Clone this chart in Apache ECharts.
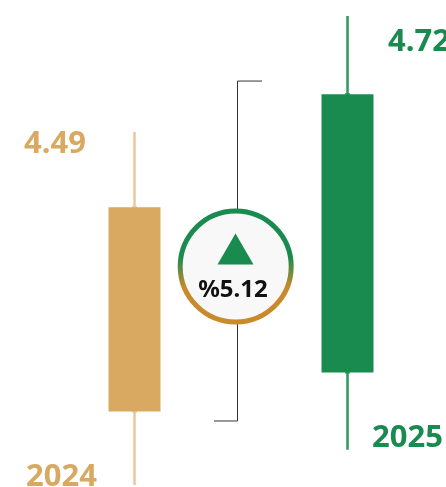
<!DOCTYPE html>
<html>
<head>
<meta charset="utf-8">
<script src="https://cdn.jsdelivr.net/npm/echarts@6/dist/echarts.min.js"></script>
<style>
html, body { margin: 0; padding: 0; background: #fff; overflow: hidden; }
#main { width: 446px; height: 487px; }
</style>
</head>
<body>
<div id="main"></div>
<script>
// values
var years = ['2024', '2025']
var opens = [3.936, 4.013]
var closes = [4.341, 4.565]
var lows = [3.79, 3.86]
var highs = [4.49, 4.72]
var priceLabels = ['4.49', '4.72']
var bracketTop = 4.591
var bracketBottom = 3.917
var changeLabel = '%5.12'

var bodyColors = ['#D9A962', '#1A8B4F']
var wickColors = ['#EAC89C', '#2F9663']
var FONT = '"Noto Sans", sans-serif'

var myChart = echarts.init(document.getElementById('main'), null, { renderer: 'canvas' })

function yearText(text, x, y, color, size) {
  return {
    type: 'text',
    x: x,
    y: y,
    z: 20,
    style: {
      text: text,
      fill: color,
      font: 'bold ' + size + 'px ' + FONT,
      textVerticalAlign: 'middle'
    }
  }
}

var option = {
  animation: false,
  backgroundColor: '#fff',
  // the second band runs past the right edge of the canvas
  grid: { left: 28, top: 0, width: 426, height: 487, outerBoundsMode: 'none' },
  xAxis: { type: 'category', data: years, show: false },
  yAxis: { type: 'value', min: 3.7861, max: 4.7517, show: false },
  series: [
    // wicks, lighter than the bodies
    {
      type: 'candlestick',
      barWidth: 3,
      z: 2,
      data: years.map(function (y, i) {
        return {
          value: [opens[i], closes[i], lows[i], highs[i]],
          itemStyle: { color: wickColors[i], color0: wickColors[i], borderColor: wickColors[i], borderColor0: wickColors[i], borderWidth: 2.5 }
        }
      })
    },
    // bodies
    {
      type: 'candlestick',
      barWidth: 52,
      z: 3,
      data: years.map(function (y, i) {
        return {
          value: [opens[i], closes[i], opens[i], closes[i]],
          itemStyle: { color: bodyColors[i], color0: bodyColors[i], borderColor: bodyColors[i], borderColor0: bodyColors[i], borderWidth: 0 }
        }
      })
    },
    // bracket behind the badge
    {
      type: 'custom',
      z: 1,
      data: [[0, bracketTop, bracketBottom]],
      renderItem: function (params, api) {
        var top = api.coord([0, api.value(1)])[1]
        var bottom = api.coord([0, api.value(2)])[1]
        return {
          type: 'polyline',
          shape: { points: [[262, top], [237.5, top], [237.5, bottom], [214, bottom]] },
          style: { stroke: '#333', lineWidth: 1, fill: null }
        }
      }
    }
  ],
  graphic: [
    yearText(priceLabels[0], 24, 144, bodyColors[0], 31),
    yearText(priceLabels[1], 388, 42, bodyColors[1], 31),
    yearText(years[0], 26, 477, bodyColors[0], 31),
    yearText(years[1], 372, 438, bodyColors[1], 31),
    {
      type: 'circle',
      z: 10,
      shape: { cx: 235.7, cy: 266.5, r: 55.5 },
      style: {
        fill: '#F8F8F8',
        lineWidth: 5,
        stroke: new echarts.graphic.LinearGradient(0, 0, 0, 1, [
          { offset: 0, color: '#1A8B4F' },
          { offset: 0.42, color: '#1A8B4F' },
          { offset: 0.68, color: '#C98A2B' },
          { offset: 1, color: '#C98A2B' }
        ])
      }
    },
    {
      type: 'polygon',
      z: 11,
      shape: { points: [[235.5, 233.5], [253.5, 264.5], [217.5, 264.5]] },
      style: { fill: '#1A8B4F' }
    },
    {
      type: 'text',
      x: 233,
      y: 290,
      z: 11,
      style: {
        text: changeLabel,
        fill: '#111',
        font: 'bold 24px ' + FONT,
        textAlign: 'center',
        textVerticalAlign: 'middle'
      }
    }
  ]
}

myChart.setOption(option)
</script>
</body>
</html>
